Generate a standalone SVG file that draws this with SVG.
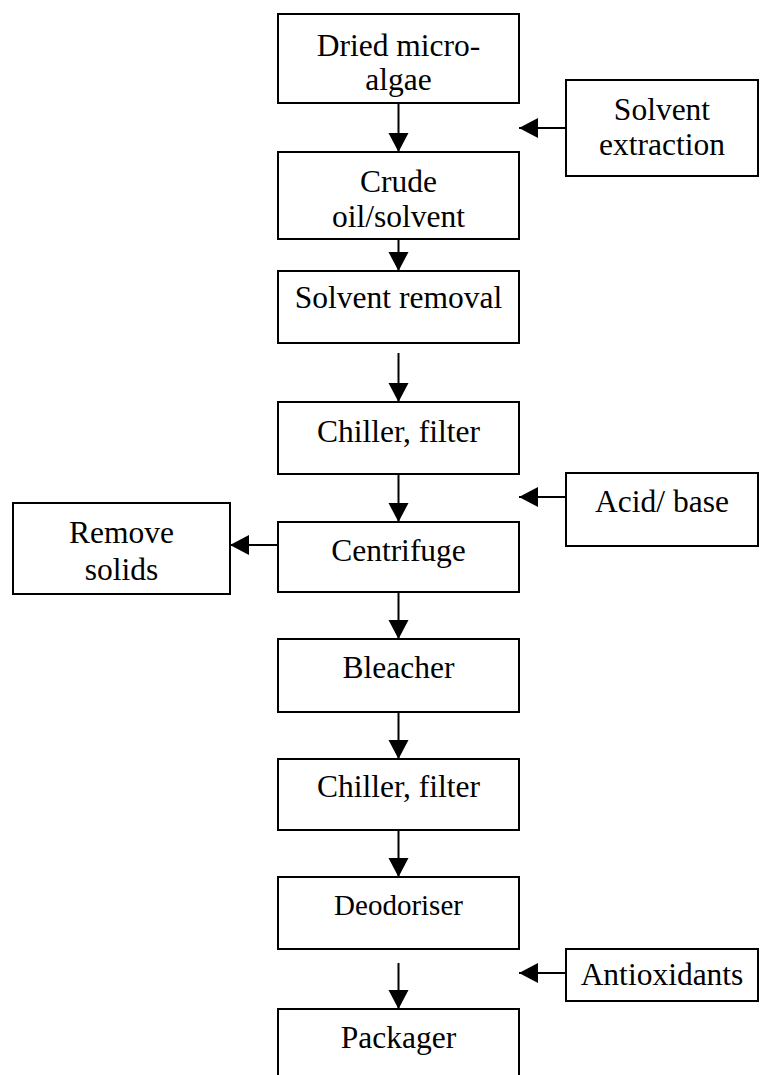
<svg xmlns="http://www.w3.org/2000/svg" width="763" height="1075" viewBox="0 0 763 1075">
<style>
rect.box{fill:#fff;stroke:#000;stroke-width:2}
text{font-family:"Liberation Serif","Times New Roman",serif;font-size:31.5px;fill:#000;text-anchor:middle}
.sm{font-size:29px}
.conn line{stroke:#000;stroke-width:2}
</style>
<defs>
<marker id="arr" markerUnits="userSpaceOnUse" markerWidth="20" markerHeight="22" refX="19" refY="10" orient="auto" viewBox="0 0 20 20">
<path d="M0,0 L19,10 L0,20 Z" fill="#000"/>
</marker>
</defs>
<rect width="763" height="1075" fill="#fff"/>
<g id="connectors" class="conn">
<line x1="398.5" y1="103" x2="398.5" y2="152" marker-end="url(#arr)"/>
<line x1="398.5" y1="239" x2="398.5" y2="271" marker-end="url(#arr)"/>
<line x1="398.5" y1="353" x2="398.5" y2="402" marker-end="url(#arr)"/>
<line x1="398.5" y1="474" x2="398.5" y2="522" marker-end="url(#arr)"/>
<line x1="398.5" y1="592" x2="398.5" y2="639" marker-end="url(#arr)"/>
<line x1="398.5" y1="712" x2="398.5" y2="759" marker-end="url(#arr)"/>
<line x1="398.5" y1="830" x2="398.5" y2="877" marker-end="url(#arr)"/>
<line x1="398.5" y1="963" x2="398.5" y2="1009" marker-end="url(#arr)"/>
<line x1="566" y1="128" x2="519" y2="128" marker-end="url(#arr)"/>
<line x1="566" y1="497" x2="519" y2="497" marker-end="url(#arr)"/>
<line x1="566" y1="973" x2="519" y2="973" marker-end="url(#arr)"/>
<line x1="278" y1="545" x2="230" y2="545" marker-end="url(#arr)"/>
</g>
<g id="n-dried"><rect class="box" x="278" y="14" width="241" height="89"/><text x="398.5" y="56">Dried micro-</text><text x="398.5" y="90">algae</text></g>
<g id="n-crude"><rect class="box" x="278" y="152" width="241" height="87"/><text x="398.5" y="192">Crude</text><text x="398.5" y="227">oil/solvent</text></g>
<g id="n-solvrem"><rect class="box" x="278" y="271" width="241" height="72"/><text x="398.5" y="308">Solvent removal</text></g>
<g id="n-chiller1"><rect class="box" x="278" y="402" width="241" height="72"/><text x="398.5" y="442">Chiller, filter</text></g>
<g id="n-centrifuge"><rect class="box" x="278" y="522" width="241" height="70"/><text x="398.5" y="561">Centrifuge</text></g>
<g id="n-bleacher"><rect class="box" x="278" y="639" width="241" height="73"/><text x="398.5" y="678">Bleacher</text></g>
<g id="n-chiller2"><rect class="box" x="278" y="759" width="241" height="71"/><text x="398.5" y="797">Chiller, filter</text></g>
<g id="n-deodoriser"><rect class="box" x="278" y="877" width="241" height="72"/><text class="sm" x="398.5" y="915">Deodoriser</text></g>
<g id="n-packager"><rect class="box" x="278" y="1009" width="241" height="80"/><text x="398.5" y="1048">Packager</text></g>
<g id="n-solvext"><rect class="box" x="566" y="80" width="192" height="96"/><text x="662" y="120">Solvent</text><text x="662" y="155">extraction</text></g>
<g id="n-acid"><rect class="box" x="566" y="473" width="192" height="73"/><text x="662" y="512">Acid/ base</text></g>
<g id="n-antiox"><rect class="box" x="566" y="949" width="192" height="52"/><text x="662" y="985">Antioxidants</text></g>
<g id="n-remove"><rect class="box" x="13" y="503" width="217" height="91"/><text x="121.5" y="543">Remove</text><text x="121.5" y="580">solids</text></g>
</svg>
